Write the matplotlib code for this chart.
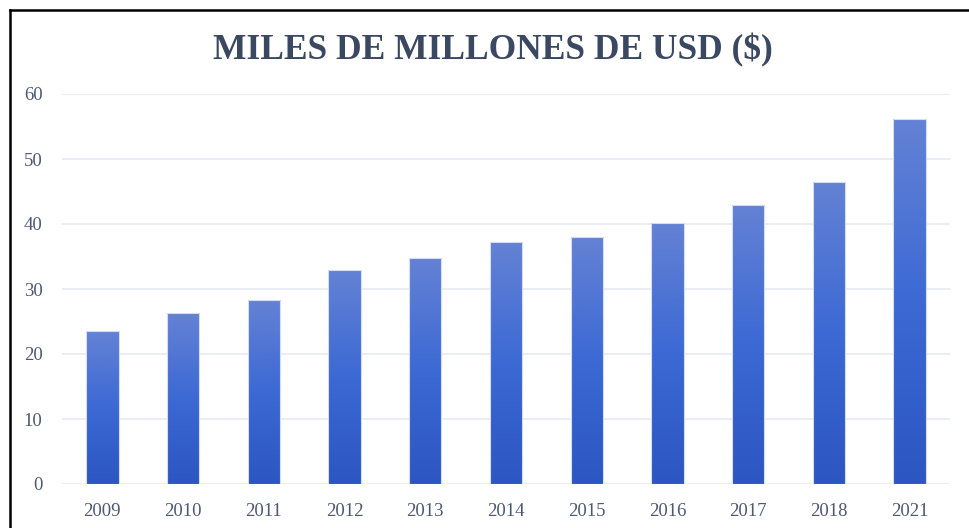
import numpy as np
import matplotlib.pyplot as plt
from matplotlib.colors import LinearSegmentedColormap
from matplotlib.lines import Line2D

# datos (miles de millones de USD)
anios = ['2009', '2010', '2011', '2012', '2013', '2014', '2015', '2016', '2017', '2018', '2021']
valores = [23.5, 26.3, 28.3, 33.0, 34.7, 37.2, 38.0, 40.2, 43.0, 46.5, 56.1]
yticks = [0, 10, 20, 30, 40, 50, 60]

color_texto = '#4d5872'
color_titulo = '#3b4862'

# degradado de las barras: arriba mas claro, abajo mas oscuro
degradado = LinearSegmentedColormap.from_list('barras', ['#2c56c2', '#3c69d4', '#6482d4'])

fig = plt.figure(figsize=(9.69, 5.28), dpi=100)
ax = fig.add_axes([62 / 969, 1 - 484 / 528, (950 - 62) / 969, (484 - 94) / 528])

x = np.arange(len(anios))
barras = ax.bar(x, valores, width=0.4, color='none', edgecolor='#d3dcf3', linewidth=0.8, zorder=3)

grad = np.linspace(0, 1, 256).reshape(-1, 1)
for b in barras:
    bx, by = b.get_x(), b.get_y()
    im = ax.imshow(grad, cmap=degradado, origin='lower', aspect='auto',
                   extent=[bx, bx + b.get_width(), by, by + b.get_height()], zorder=2)
    im.set_clip_path(b)

ax.set_xlim(-0.5, len(anios) - 0.5)
ax.set_ylim(0, 60)
ax.set_yticks(yticks)
ax.set_xticks(x)
ax.set_xticklabels(anios)
ax.grid(axis='y', color='#e6eaf2', linewidth=1.2, zorder=0)
ax.set_axisbelow(True)
for s in ax.spines.values():
    s.set_visible(False)
ax.tick_params(length=0, labelsize=13.5, labelcolor=color_texto)
ax.tick_params(axis='y', pad=14)
ax.tick_params(axis='x', pad=14)
for lab in ax.get_xticklabels() + ax.get_yticklabels():
    lab.set_family('Liberation Serif')

fig.text(0.509, 1 - 50 / 528, 'MILES DE MILLONES DE USD ($)', ha='center', va='center',
         fontsize=25.5, fontweight='bold', family='Liberation Serif', color=color_titulo)

# marco negro (solo arriba e izquierda, la imagen esta recortada)
fig.add_artist(Line2D([9.5 / 969, 1], [1 - 9.5 / 528, 1 - 9.5 / 528], color='black', lw=1.8,
                      transform=fig.transFigure))
fig.add_artist(Line2D([9.5 / 969, 9.5 / 969], [0, 1 - 9.5 / 528], color='black', lw=1.8,
                      transform=fig.transFigure))

fig.savefig('out.png', dpi=100)
